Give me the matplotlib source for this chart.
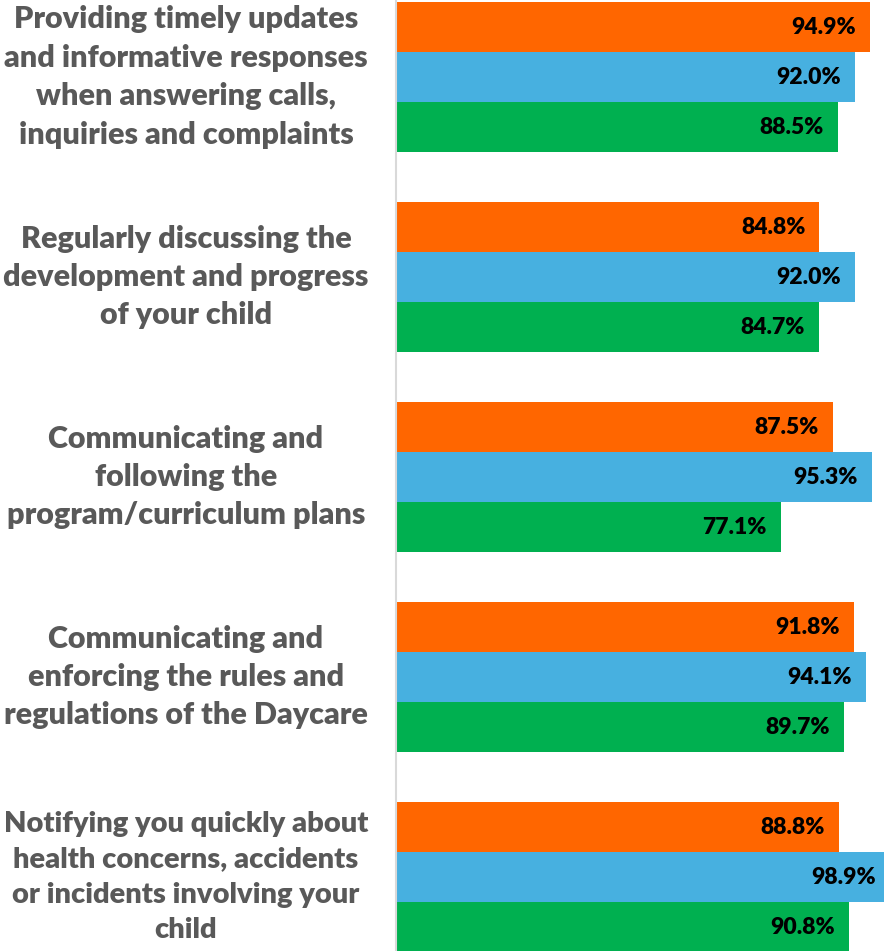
import matplotlib
matplotlib.use("Agg")
import matplotlib.pyplot as plt
import numpy as np

categories = [
    "Providing timely updates\nand informative responses\nwhen answering calls,\ninquiries and complaints",
    "Regularly discussing the\ndevelopment and progress\nof your child",
    "Communicating and\nfollowing the\nprogram/curriculum plans",
    "Communicating and\nenforcing the rules and\nregulations of the Daycare",
    "Notifying you quickly about\nhealth concerns, accidents\nor incidents involving your\nchild",
]
orange_vals = [94.9, 84.8, 87.5, 91.8, 88.8]
blue_vals = [92.0, 92.0, 95.3, 94.1, 98.9]
green_vals = [88.5, 84.7, 77.1, 89.7, 90.8]

colors = ["#FF6600", "#47B0E0", "#00B050"]

plt.rcParams["font.family"] = ["Lato", "DejaVu Sans"]

fig = plt.figure(figsize=(8.84, 9.51), dpi=100)
ax = fig.add_axes([396 / 884, 0, 1 - 396 / 884, 1])

y = np.arange(len(categories))
h = 0.25
for k, vals in enumerate([orange_vals, blue_vals, green_vals]):
    pos = y + (k - 1) * h
    ax.barh(pos, vals, height=h, color=colors[k])
    for p, v in zip(pos, vals):
        ax.annotate(f"{v:.1f}%", (v, p), xytext=(-10, 0), textcoords="offset points",
                    ha="right", va="center", fontsize=16.5, fontweight="heavy", color="black",
                    annotation_clip=False)

ax.set_xlim(0, 488 / 4.99)
ax.set_ylim(-0.385 + 951 / 200, -0.385)
for s in ["top", "right", "bottom"]:
    ax.spines[s].set_visible(False)
ax.spines["left"].set_color("#D9D9D9")
ax.spines["left"].set_linewidth(1.5)
ax.set_xticks([])
ax.set_yticks([])

for i, c in enumerate(categories):
    fs = 21 if i == 4 else 22
    fig.text(186 / 884, 1 - (77 + 200 * i) / 951, c, ha="center", va="center",
             fontsize=fs, fontweight="heavy", color="#595959", linespacing=1.45,
             multialignment="center")

fig.savefig("out.png", dpi=100)
